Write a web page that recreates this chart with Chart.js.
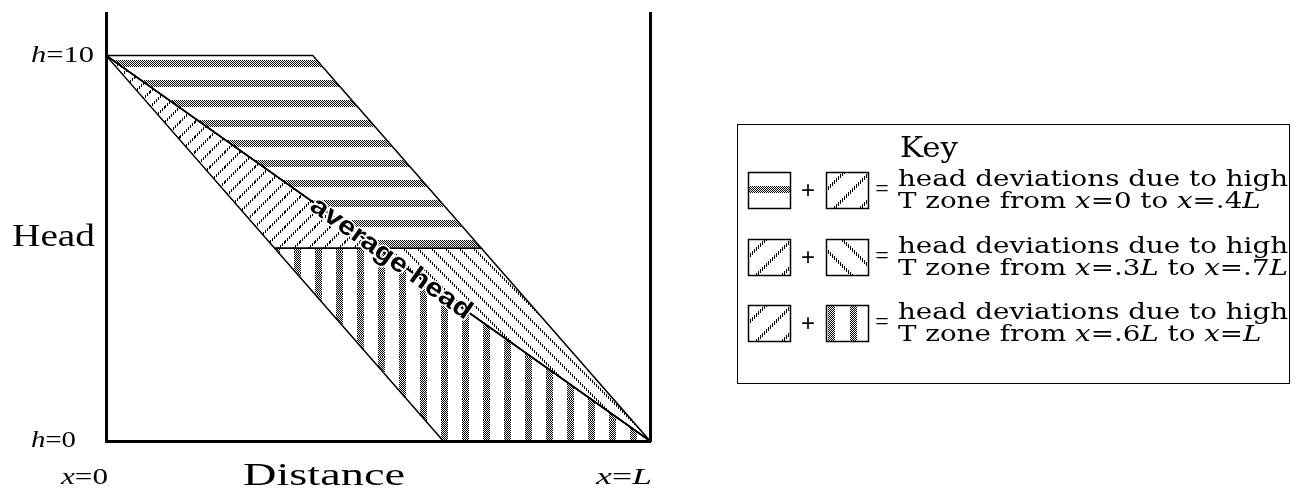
<!DOCTYPE html>
<html>
<head>
<meta charset="utf-8">
<script src="https://cdn.jsdelivr.net/npm/chart.js@4"></script>
<style>
  html, body { margin: 0; padding: 0; background: #fff; }
  #wrap { width: 1296px; height: 489px; }
</style>
</head>
<body>
<div id="wrap"><canvas id="chart" width="1296" height="489"></canvas></div>
<script>
// Head along a 1-D aquifer, with the deviations caused by a high-T zone
// at three different positions. Distance is in units of L, head from 0 to 10.

const distTicks = [0, 1];
const distLabels = ['_x_=0', '_x_=_L_'];
const headTicks = [0, 10];
const headLabels = ['_h_=0', '_h_=10'];

// polygon vertices as [distance, head]
const highTZone = [[0, 10], [0.38, 10], [0.69, 5], [0.5, 5]];
const upperWedge = [[0, 10], [0.5, 5], [0.31, 5]];
const lowerWedge = [[0.5, 5], [0.69, 5], [1, 0]];
const lowerBand = [[0.31, 5], [0.5, 5], [1, 0], [0.62, 0]];
const averageHead = [[0, 10], [1, 0]];

const keyLine1 = 'head deviations due to high';
const keyLine2 = [
    'T zone from _x_=0 to _x_=.4_L_',
    'T zone from _x_=.3_L_ to _x_=.7_L_',
    'T zone from _x_=.6_L_ to _x_=_L_'
];
const keyFills = [['h', '/'], ['/', '\\'], ['/', 'v']];

const canvas = document.getElementById('chart');
const ctx0 = canvas.getContext('2d');

// dithered stripe patterns, built pixel by pixel
function makePattern(kind, size, band) {
    const c = document.createElement('canvas');
    c.width = size;
    c.height = size;
    const g = c.getContext('2d');
    const img = g.createImageData(size, size);
    for (let y = 0; y < size; y++) {
        for (let x = 0; x < size; x++) {
            let on, dot;
            if (kind === 'h') { on = y < band; dot = (x + y) % 2 === 0; }
            else if (kind === 'v') { on = x < band; dot = (x + y) % 2 === 0; }
            else if (kind === '/') { on = ((x + y) % size) < band; dot = x % 2 === 0; }
            else { on = ((x - y + size) % size) < band; dot = x % 2 === 0; }
            if (on && dot) {
                const k = (y * size + x) * 4;
                img.data[k + 3] = 255;
            }
        }
    }
    g.putImageData(img, 0, 0);
    return ctx0.createPattern(c, 'repeat');
}

const plotPatterns = {
    h: makePattern('h', 20, 7),
    v: makePattern('v', 21, 7),
    '/': makePattern('/', 15, 3),
    '\\': makePattern('\\', 14, 3)
};
const keyPatterns = {
    h: makePattern('h', 34, 7),
    v: makePattern('v', 22, 7),
    '/': makePattern('/', 26, 4),
    '\\': makePattern('\\', 26, 4)
};

const zones = [
    { pts: highTZone, fill: plotPatterns.h },
    { pts: upperWedge, fill: plotPatterns['/'] },
    { pts: lowerWedge, fill: plotPatterns['\\'] },
    { pts: lowerBand, fill: plotPatterns.v }
];

function toXY(pts, close) {
    const out = pts.map(p => ({ x: p[0], y: p[1] }));
    if (close) out.push({ x: pts[0][0], y: pts[0][1] });
    return out;
}

// text with _italic_ runs, optionally stretched to a width
function drawRich(ctx, str, x, y, size, family, opt) {
    opt = opt || {};
    const parts = str.split('_').map((t, i) => ({ t: t, it: i % 2 === 1 })).filter(p => p.t);
    const fontOf = it => (it ? 'italic ' : '') + size + 'px ' + family;
    let w = 0;
    parts.forEach(p => {
        ctx.font = fontOf(p.it);
        p.w = ctx.measureText(p.t).width;
        w += p.w;
    });
    const sx = opt.width ? opt.width / w : (opt.sx || 1);
    let x0 = x;
    if (opt.align === 'right') x0 = x - w * sx;
    if (opt.align === 'center') x0 = x - w * sx / 2;
    ctx.save();
    ctx.translate(x0, y);
    ctx.scale(sx, 1);
    ctx.textAlign = 'left';
    ctx.textBaseline = 'middle';
    ctx.fillStyle = '#000';
    let cx = 0;
    parts.forEach(p => {
        ctx.font = fontOf(p.it);
        ctx.fillText(p.t, cx, 0);
        cx += p.w;
    });
    ctx.restore();
    return sx;
}

const SERIF = '"Liberation Serif", serif';
const KEYSERIF = '"DejaVu Serif", serif';

// fills each zone polygon with its pattern underneath the outlines
const zoneFill = {
    id: 'zoneFill',
    beforeDatasetsDraw(chart) {
        const ctx = chart.ctx;
        const area = chart.chartArea;
        ctx.save();
        ctx.beginPath();
        ctx.rect(area.left, area.top, area.right - area.left, area.bottom - area.top);
        ctx.clip();
        zones.forEach((z, i) => {
            const pts = chart.getDatasetMeta(i).data;
            ctx.beginPath();
            pts.forEach((p, j) => (j ? ctx.lineTo(p.x, p.y) : ctx.moveTo(p.x, p.y)));
            ctx.closePath();
            ctx.fillStyle = z.fill;
            ctx.fill();
        });
        ctx.restore();
    }
};

const labels = {
    id: 'labels',
    afterDraw(chart) {
        const ctx = chart.ctx;
        const xs = chart.scales.x;
        const ys = chart.scales.y;

        // head ticks
        headTicks.forEach((v, i) => {
            drawRich(ctx, headLabels[i], 31, ys.getPixelForValue(v), 24, SERIF,
                { width: i ? 63 : 45 });
        });
        // distance ticks, ending at the tick position
        distTicks.forEach((v, i) => {
            drawRich(ctx, distLabels[i], xs.getPixelForValue(v) + 2, 478, 24, SERIF,
                { width: i ? 56 : 47, align: 'right' });
        });
        drawRich(ctx, 'Head', 12, 238, 31, SERIF, { width: 83 });
        drawRich(ctx, 'Distance', 324, 477, 31, SERIF, { width: 162, align: 'center' });

        // label along the average head line
        const a = chart.getDatasetMeta(zones.length).data;
        const ang = Math.atan2(a[1].y - a[0].y, a[1].x - a[0].x);
        const cx = xs.getPixelForValue(0.525);
        const cy = ys.getPixelForValue(10 - 10 * 0.525);
        ctx.save();
        ctx.translate(cx, cy);
        ctx.rotate(ang);
        ctx.font = 'bold 26px "Liberation Sans", sans-serif';
        const tw = ctx.measureText('average head').width;
        ctx.scale(192 / tw, 1);
        ctx.textAlign = 'center';
        ctx.textBaseline = 'middle';
        ctx.lineWidth = 3;
        ctx.strokeStyle = '#fff';
        ctx.lineJoin = 'round';
        ctx.strokeText('average head', 0, 1);
        ctx.fillStyle = '#000';
        ctx.fillText('average head', 0, 1);
        ctx.restore();

        // key box
        ctx.save();
        ctx.strokeStyle = '#000';
        ctx.lineWidth = 1;
        ctx.strokeRect(737.5, 124.5, 552, 259);
        drawRich(ctx, 'Key', 929, 150, 28, KEYSERIF, { width: 58, align: 'center' });

        ctx.font = '22px ' + KEYSERIF;
        const sx = 390 / ctx.measureText(keyLine1).width;
        const rowY = [190, 257, 323];
        rowY.forEach((ry, r) => {
            [748, 826].forEach((bx, k) => {
                const pat = keyPatterns[keyFills[r][k]];
                pat.setTransform(new DOMMatrix().translate(bx + 2, ry - 18 + 14));
                ctx.fillStyle = pat;
                ctx.fillRect(bx, ry - 18, 42, 36);
                ctx.lineWidth = 1.5;
                ctx.strokeRect(bx + 0.5, ry - 17.5, 42, 36);
            });
            ctx.fillStyle = '#000';
            ctx.font = '24px "Liberation Sans", sans-serif';
            ctx.textAlign = 'center';
            ctx.textBaseline = 'middle';
            ctx.fillText('+', 808, ry + 1);
            drawRich(ctx, '=', 882, ry, 24, SERIF, { align: 'center' });
            drawRich(ctx, keyLine1, 898, ry - 10, 22, KEYSERIF, { sx: sx });
            drawRich(ctx, keyLine2[r], 898, ry + 12, 22, KEYSERIF, { sx: sx });
        });
        ctx.restore();
    }
};

const outline = pts => ({
    data: toXY(pts, pts.length > 2),
    borderColor: '#000',
    borderWidth: 1.5,
    pointRadius: 0,
    fill: false,
    tension: 0
});

const axisBorder = { display: true, width: 3, color: '#000' };

new Chart(canvas, {
    type: 'line',
    data: {
        datasets: zones.map(z => outline(z.pts)).concat([outline(averageHead)])
    },
    options: {
        responsive: false,
        animation: false,
        events: [],
        layout: { padding: { left: 106, right: 646, top: 13, bottom: 48 } },
        plugins: {
            legend: { display: false },
            tooltip: { enabled: false }
        },
        scales: {
            x: {
                type: 'linear', min: 0, max: 1,
                grid: { display: false },
                ticks: { display: false },
                border: axisBorder,
                afterFit: s => { s.height = 0; }
            },
            y: {
                type: 'linear', min: 0, max: 11.1, position: 'left',
                grid: { display: false },
                ticks: { display: false },
                border: axisBorder,
                afterFit: s => { s.width = 0; }
            },
            yRight: {
                type: 'linear', min: 0, max: 11.1, position: 'right',
                grid: { display: false },
                ticks: { display: false },
                border: axisBorder,
                afterFit: s => { s.width = 0; }
            }
        }
    },
    plugins: [zoneFill, labels]
});
</script>
</body>
</html>
